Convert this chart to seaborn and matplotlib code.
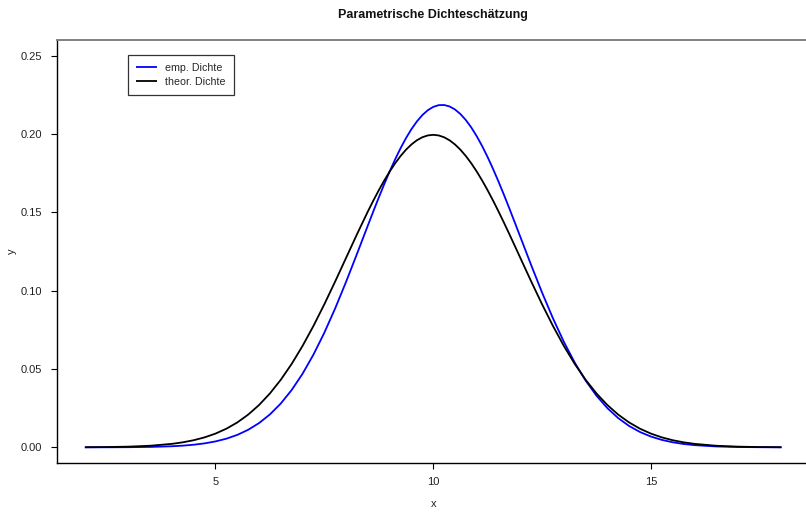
import matplotlib
matplotlib.use("Agg")
import matplotlib.pyplot as plt
import seaborn as sns
import pandas as pd

# x grid
x_vals = [2, 2.5, 3, 3.5, 4, 4.25, 4.5, 4.75, 5, 5.25, 5.5, 5.75, 6, 6.25, 6.5, 6.75,
          7, 7.25, 7.5, 7.75, 8, 8.25, 8.5, 8.625, 8.75, 8.875, 9, 9.125, 9.25, 9.375,
          9.5, 9.625, 9.75, 9.875, 10, 10.125, 10.25, 10.375, 10.5, 10.625, 10.75,
          10.875, 11, 11.125, 11.25, 11.375, 11.5, 11.625, 11.75, 11.875, 12, 12.25,
          12.5, 12.75, 13, 13.25, 13.5, 13.75, 14, 14.25, 14.5, 14.75, 15, 15.25, 15.5,
          15.75, 16, 16.5, 17, 17.5, 18]

# empirical density (blue)
emp_density = [0.000009, 0.000030, 0.000091, 0.000259, 0.000681, 0.001075, 0.001665,
               0.002531, 0.003775, 0.005523, 0.007932, 0.011184, 0.015477, 0.021011,
               0.027991, 0.036611, 0.046990, 0.059192, 0.073169, 0.088778, 0.105706,
               0.123520, 0.141653, 0.150632, 0.159432, 0.167953, 0.176101, 0.183783,
               0.190900, 0.197366, 0.203096, 0.208014, 0.212053, 0.215160, 0.217290,
               0.218414, 0.218517, 0.217596, 0.215665, 0.212751, 0.208894, 0.204147,
               0.198574, 0.192248, 0.185255, 0.177679, 0.169615, 0.161161, 0.152407,
               0.143460, 0.134405, 0.116327, 0.098798, 0.082362, 0.067374, 0.054093,
               0.042624, 0.032960, 0.025015, 0.018632, 0.013619, 0.009770, 0.006880,
               0.004753, 0.003223, 0.002145, 0.001401, 0.000565, 0.000211, 0.000073,
               0.000024]

# theoretical density (black)
theo_density = [0.000067, 0.000176, 0.000436, 0.001015, 0.002216, 0.003199, 0.004547,
                0.006362, 0.008764, 0.011886, 0.015870, 0.020865, 0.026995, 0.034393,
                0.043139, 0.053270, 0.064759, 0.077506, 0.091325, 0.105937, 0.120985,
                0.136028, 0.150569, 0.157486, 0.164081, 0.170284, 0.176033, 0.181266,
                0.185927, 0.189965, 0.193334, 0.195996, 0.197919, 0.199082, 0.199471,
                0.199082, 0.197919, 0.195996, 0.193334, 0.189965, 0.185927, 0.181266,
                0.176033, 0.170284, 0.164081, 0.157486, 0.150569, 0.143393, 0.136028,
                0.128537, 0.120985, 0.105937, 0.091325, 0.077506, 0.064759, 0.053270,
                0.043139, 0.034393, 0.026995, 0.020865, 0.015870, 0.011886, 0.008764,
                0.006362, 0.004547, 0.003199, 0.002216, 0.001015, 0.000436, 0.000176,
                0.000067]

series_labels = ["emp. Dichte", "theor. Dichte"]
x_ticks = [5, 10, 15]
y_ticks = [0.00, 0.05, 0.10, 0.15, 0.20, 0.25]
y_ticklabels = ["0.00", "0.05", "0.10", "0.15", "0.20", "0.25"]

sns.set_theme(style="white")
plt.rcParams["font.family"] = ["Liberation Sans", "DejaVu Sans"]

df = pd.DataFrame({"x": x_vals, "emp": emp_density, "theo": theo_density})

fig = plt.figure(figsize=(8.06, 5.12), dpi=100)
ax = fig.add_axes([57 / 806, 49 / 512, 752.4 / 806, 423 / 512])

line_kw = dict(lw=1.3, solid_joinstyle="round", solid_capstyle="butt")
sns.lineplot(data=df, x="x", y="emp", ax=ax, color="#0000ff",
             label=series_labels[0], **line_kw)
sns.lineplot(data=df, x="x", y="theo", ax=ax, color="black",
             label=series_labels[1], **line_kw)

ax.set_xlim(1.36, 18.64)
ax.set_ylim(-0.01, 0.26)
ax.set_xticks(x_ticks)
ax.set_xticklabels([str(t) for t in x_ticks])
ax.set_yticks(y_ticks)
ax.set_yticklabels(y_ticklabels)
ax.tick_params(axis="both", direction="out", length=4, width=0.8, colors="black",
               labelsize=8, left=True, bottom=True)
ax.tick_params(axis="y", pad=7)
ax.tick_params(axis="x", pad=6)
for lab in ax.get_xticklabels() + ax.get_yticklabels():
    lab.set_color("#222222")

ax.spines["left"].set_color("black")
ax.spines["bottom"].set_color("black")
ax.spines["left"].set_linewidth(1.0)
ax.spines["bottom"].set_linewidth(1.0)
ax.spines["top"].set_color("#808080")
ax.spines["top"].set_linewidth(1.4)
ax.spines["right"].set_color("#808080")

ax.set_xlabel("x", fontsize=8, color="#222222", labelpad=9)
ax.set_ylabel("y", fontsize=8, color="#222222")
ax.yaxis.set_label_coords(-0.053, 0.5)

fig.text(433 / 806, 1 - 15 / 512, "Parametrische Dichteschätzung", ha="center",
         va="center", fontsize=9, fontweight="bold", color="#111111")

leg = ax.legend(loc="upper left", bbox_to_anchor=((128 - 57) / 752.4, (463 - 55) / 423),
                fontsize=7.7, frameon=True, fancybox=False, handlelength=2.0,
                handletextpad=0.75, borderpad=0.75, labelspacing=0.36,
                borderaxespad=0)
leg.get_frame().set_edgecolor("black")
leg.get_frame().set_linewidth(0.9)
for h in leg.get_lines():
    h.set_linewidth(1.3)

fig.savefig("out.png", dpi=100)
